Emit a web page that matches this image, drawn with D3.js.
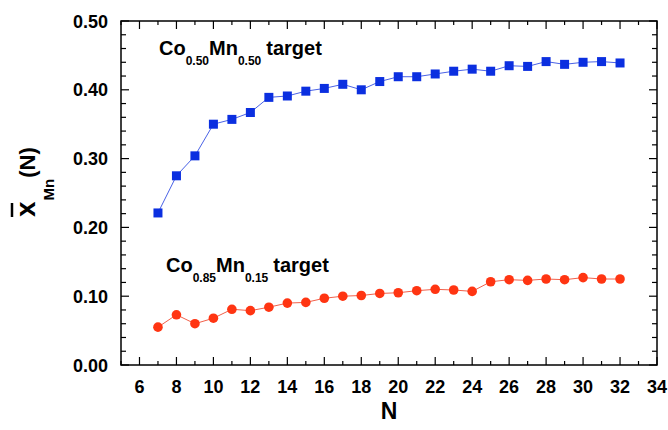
<!DOCTYPE html>
<html>
<head>
<meta charset="utf-8">
<script src="https://cdnjs.cloudflare.com/ajax/libs/d3/7.8.5/d3.min.js"></script>
<style>
  body { margin: 0; background: #fff; }
  text { font-family: "Liberation Sans", Arial, Helvetica, sans-serif; font-weight: bold; }
</style>
</head>
<body>
<svg id="chart" width="668" height="430"></svg>
<script>
var N = [7, 8, 9, 10, 11, 12, 13, 14, 15, 16, 17, 18, 19, 20,
         21, 22, 23, 24, 25, 26, 27, 28, 29, 30, 31, 32];

var mn50 = [0.221, 0.275, 0.304, 0.350, 0.357, 0.367, 0.389, 0.391, 0.398, 0.402, 0.408, 0.400, 0.412, 0.419,
            0.419, 0.423, 0.427, 0.430, 0.427, 0.435, 0.434, 0.441, 0.437, 0.440, 0.441, 0.439];

var mn15 = [0.055, 0.073, 0.060, 0.068, 0.081, 0.079, 0.084, 0.090, 0.091, 0.097, 0.100, 0.101, 0.104, 0.105,
            0.108, 0.110, 0.109, 0.107, 0.121, 0.124, 0.123, 0.125, 0.124, 0.127, 0.125, 0.125];

var xTicks = [6, 8, 10, 12, 14, 16, 18, 20, 22, 24, 26, 28, 30, 32, 34];
var yTicks = [0.0, 0.1, 0.2, 0.3, 0.4, 0.5];

var margin = {left: 121, top: 21, right: 11, bottom: 65};
var W = 668, H = 430;

var svg = d3.select("#chart");

var x = d3.scaleLinear().domain([5, 34]).range([margin.left, W - margin.right]);
var y = d3.scaleLinear().domain([0, 0.5]).range([H - margin.bottom, margin.top]);

var x0 = x.range()[0], x1 = x.range()[1];
var y0 = y.range()[0], y1 = y.range()[1];

// minor ticks every 1 on x, every 0.02 on y
var xMinor = d3.range(5, 34, 1).filter(function(d) { return d % 2 == 1; });
var yMinor = d3.range(0, 25).map(function(i) { return i * 0.02; })
  .filter(function(d) { return Math.abs(Math.round(d * 10) - d * 10) > 1e-6; });

var g = svg.append("g").attr("stroke", "#000").attr("stroke-width", 1.2);

// ticks pointing inward on all four sides
xTicks.forEach(function(d) {
  g.append("line").attr("x1", x(d)).attr("x2", x(d)).attr("y1", y0).attr("y2", y0 - 8);
  g.append("line").attr("x1", x(d)).attr("x2", x(d)).attr("y1", y1).attr("y2", y1 + 8);
});
xMinor.forEach(function(d) {
  g.append("line").attr("x1", x(d)).attr("x2", x(d)).attr("y1", y0).attr("y2", y0 - 4);
  g.append("line").attr("x1", x(d)).attr("x2", x(d)).attr("y1", y1).attr("y2", y1 + 4);
});
yTicks.forEach(function(d) {
  g.append("line").attr("y1", y(d)).attr("y2", y(d)).attr("x1", x0).attr("x2", x0 + 8);
  g.append("line").attr("y1", y(d)).attr("y2", y(d)).attr("x1", x1).attr("x2", x1 - 8);
});
yMinor.forEach(function(d) {
  g.append("line").attr("y1", y(d)).attr("y2", y(d)).attr("x1", x0).attr("x2", x0 + 5);
  g.append("line").attr("y1", y(d)).attr("y2", y(d)).attr("x1", x1).attr("x2", x1 - 5);
});

svg.append("rect")
  .attr("x", x0).attr("y", y1)
  .attr("width", x1 - x0).attr("height", y0 - y1)
  .attr("fill", "none").attr("stroke", "#000").attr("stroke-width", 1.5);

// tick labels
svg.selectAll(".xl").data(xTicks).enter().append("text")
  .attr("x", function(d) { return x(d); })
  .attr("y", y0 + 28)
  .attr("text-anchor", "middle")
  .attr("font-size", 18)
  .text(function(d) { return d; });

svg.selectAll(".yl").data(yTicks).enter().append("text")
  .attr("x", x0 - 13)
  .attr("y", function(d) { return y(d) + 6.5; })
  .attr("text-anchor", "end")
  .attr("font-size", 18)
  .text(function(d) { return d.toFixed(2); });

// axis titles
svg.append("text")
  .attr("x", (x0 + x1) / 2).attr("y", 419)
  .attr("text-anchor", "middle")
  .attr("font-size", 23)
  .text("N");

var yg = svg.append("g").attr("transform", "translate(35,217) rotate(-90)");
var yt = yg.append("text").attr("x", 0).attr("y", 0);
yt.append("tspan").attr("font-size", 28).text("x");
yt.append("tspan").attr("font-size", 15).attr("dy", 19).attr("dx", 1).text("Mn");
yt.append("tspan").attr("font-size", 22).attr("dy", -19).attr("dx", 1).text("(N)");
// bar over the x
yg.append("line")
  .attr("x1", 0).attr("x2", 14).attr("y1", -23).attr("y2", -23)
  .attr("stroke", "#000").attr("stroke-width", 2.5);

// series
var line = d3.line()
  .x(function(d) { return x(d[0]); })
  .y(function(d) { return y(d[1]); });

var blue = N.map(function(n, i) { return [n, mn50[i]]; });
var red = N.map(function(n, i) { return [n, mn15[i]]; });

svg.append("path").datum(blue).attr("d", line)
  .attr("fill", "none").attr("stroke", "#4a62e6").attr("stroke-width", 1);
svg.append("path").datum(red).attr("d", line)
  .attr("fill", "none").attr("stroke", "#f2604a").attr("stroke-width", 1);

svg.selectAll(".sq").data(blue).enter().append("rect")
  .attr("x", function(d) { return x(d[0]) - 4.5; })
  .attr("y", function(d) { return y(d[1]) - 4.5; })
  .attr("width", 9).attr("height", 9)
  .attr("fill", "#0b2fe0");

svg.selectAll(".ci").data(red).enter().append("circle")
  .attr("cx", function(d) { return x(d[0]); })
  .attr("cy", function(d) { return y(d[1]); })
  .attr("r", 4.8)
  .attr("fill", "#ff3512");

// labels
function label(px, py, a, b) {
  var t = svg.append("text").attr("x", px).attr("y", py).attr("font-size", 20);
  t.append("tspan").text("Co");
  t.append("tspan").attr("font-size", 12).attr("dy", 10).text(a);
  t.append("tspan").attr("dy", -10).text("Mn");
  t.append("tspan").attr("font-size", 12).attr("dy", 10).text(b);
  t.append("tspan").attr("dy", -10).attr("dx", 5).text("target");
}
label(159, 55, "0.50", "0.50");
label(166, 272, "0.85", "0.15");
</script>
</body>
</html>
